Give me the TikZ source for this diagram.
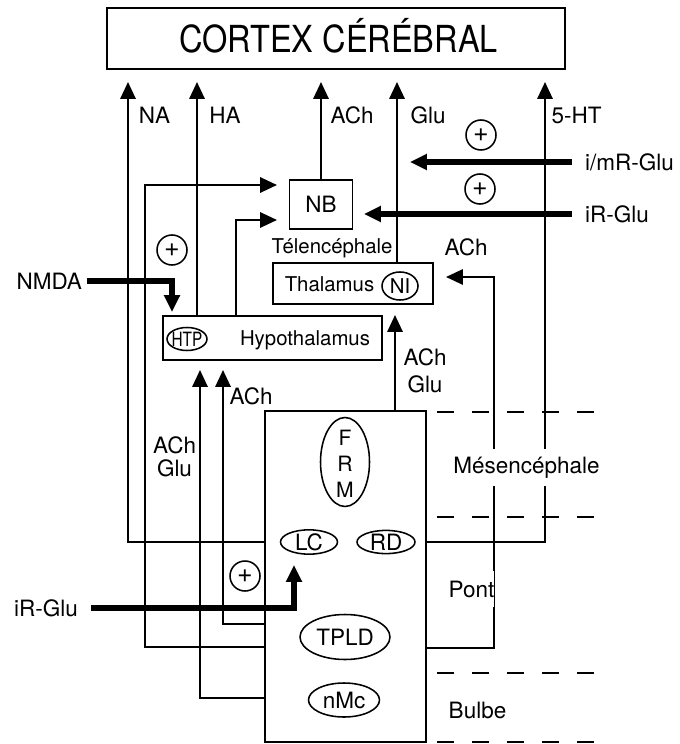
\documentclass[tikz,border=0pt]{standalone}
\usepackage{fontspec}
\setmainfont{TeX Gyre Heros}
\usepackage{graphicx}
\usetikzlibrary{arrows.meta,shapes.geometric}

\begin{document}
\begin{tikzpicture}[x=0.25mm, y=-0.25mm, line width=1.5pt,
	>={Triangle[length=4.2mm,width=3.8mm]},
	boite/.style={draw, line width=1.1pt, inner sep=0pt},
	ovale/.style={draw, ellipse, line width=1.1pt, inner sep=0pt, font=\fontsize{16}{19}\selectfont},
	pluscercle/.style={draw, circle, line width=1.1pt, minimum size=7.5mm, inner sep=0pt, font=\fontsize{19}{20}\selectfont},
	etiq/.style={inner sep=0pt, font=\fontsize{16}{19}\selectfont},
	petit/.style={inner sep=0pt, font=\fontsize{14.5}{17}\selectfont},
	gros/.style={line width=3.6pt},
	limite/.style={line width=1.5pt, dash pattern=on 4.25mm off 4.5mm}]
	\useasboundingbox (0,0) rectangle (679,744);
	
	% Cortex
	\node[boite, minimum width=114.5mm, minimum height=15.25mm] (cortex) at (336,38.5) {};
	\node[anchor=base, inner sep=0pt, font=\fontsize{26.5}{30}\selectfont] (titre) at (338.5,53) {\scalebox{0.873}[1]{CORTEX CÉRÉBRAL}};
	
	% Télencéphale, thalamus, hypothalamus
	\node[boite, etiq, minimum width=15.75mm, minimum height=12.25mm] (nb) at (321,204.5) {NB};
	\node[petit] (telen) at (332,248) {Télencéphale};
	\node[boite, minimum width=40mm, minimum height=10.25mm] (thal) at (353,283.5) {};
	\node[petit, anchor=base] (thalt) at (329.5,291) {Thalamus};
	\node[ovale, minimum width=9mm, minimum height=7mm, font=\fontsize{14.5}{17}\selectfont] (ni) at (400,286) {NI};
	\node[boite, minimum width=54.75mm, minimum height=11mm] (hypo) at (272.5,338) {};
	\node[ovale, minimum width=10mm, minimum height=5.75mm, label={[inner sep=0pt, font=\fontsize{14}{16}\selectfont]center:\scalebox{0.78}[1]{HTP}}] (htp) at (187,339) {};
	\node[petit, anchor=base] (hypot) at (305,345) {Hypothalamus};
	
	% Tronc cérébral
	\node[boite, minimum width=40.25mm, minimum height=82.75mm] (tronc) at (345.5,576.5) {};
	\node[ovale, minimum width=12.25mm, minimum height=22.25mm] (frm) at (345,462) {};
	\node[etiq, align=center, font=\fontsize{15}{18.5}\selectfont] (frmt) at (345,464) {F\\R\\M};
	\node[ovale, minimum width=14.25mm, minimum height=5.75mm] (lc) at (309,542) {LC};
	\node[ovale, minimum width=14.5mm, minimum height=5.5mm] (rd) at (386,542) {RD};
	\node[ovale, minimum width=22.5mm, minimum height=11.25mm] (tpld) at (345,637) {TPLD};
	\node[ovale, minimum width=17.75mm, minimum height=8.5mm] (nmc) at (344,700) {nMc};
	
	\node[pluscercle] (p1) at (481,135) {+};
	\node[pluscercle] (p2) at (480,189) {+};
	\node[pluscercle] (p3) at (172,250) {+};
	\node[pluscercle] (p4) at (245,576) {+};
	
	% Etiquettes
	\node[etiq] (na) at (154.5,115) {NA};
	\node[etiq] (ha) at (225,115) {HA};
	\node[etiq] (ach1) at (352,115) {ACh};
	\node[etiq] (glu1) at (428,115) {Glu};
	\node[etiq] (ht) at (576.5,115) {5-HT};
	\node[etiq, anchor=west, inner xsep=3mm] (imglu) at (572,162) {i/mR-Glu};
	\node[etiq, anchor=west, inner xsep=3mm] (irglu) at (572,214) {iR-Glu};
	\node[etiq] (ach2) at (466,247) {ACh};
	\node[etiq, anchor=east, inner xsep=1mm] (nmda) at (87,281) {NMDA};
	\node[etiq, align=center, font=\fontsize{16}{19}\selectfont] (ach3) at (425,371) {ACh\\Glu};
	\node[etiq] (ach4) at (251,396) {ACh};
	\node[etiq, align=center, font=\fontsize{16}{16.5}\selectfont] (ach5) at (174.5,457) {ACh\\Glu};
	\node[etiq, anchor=east, inner xsep=3mm] (irglu2) at (91,608) {iR-Glu};
	\node[etiq] (bulbe) at (477.5,710) {Bulbe};
	
	% Points d'arrivée
	\coordinate (naT) at (128,82);
	\coordinate (haT) at (197,82);
	\coordinate (achT) at (321,82);
	\coordinate (gluT) at (397,82);
	\coordinate (htT) at (545,82);
	\coordinate (nbA) at (277,185);
	\coordinate (nbB) at (277,220);
	\coordinate (hpA) at (200,370);
	\coordinate (hpB) at (223,370);
	\coordinate (thA) at (446,277);
	\coordinate (thB) at (395,315);
	\coordinate (imT) at (410,162);
	\coordinate (irT) at (364,214);
	\coordinate (nmT) at (172,312);
	\coordinate (lcT) at (294,565);
	\coordinate (kNB) at (145,185);
	\coordinate (kTh) at (494,277);
	
	% Projections
	\draw[->] (tronc.west |- lc) -| (naT);
	\draw[->] (hypo.north -| haT) -- (haT);
	\draw[->] (nb.north) -- (achT);
	\draw[->] (thal.north -| gluT) -- (gluT);
	\draw[->] (tronc.east |- rd) -| (htT);
	\draw[->] (tronc.west |- 0,647) -| (kNB) -- (nbA);
	\draw[->] (hypo.north -| 236,0) |- (nbB);
	\draw[->] (tronc.west |- 0,698) -| (hpA);
	\draw[->] (tronc.west |- 0,624) -| (hpB);
	\draw[->] (tronc.east |- 0,648) -| (kTh) -- (thA);
	\draw[->] (tronc.north -| thB) -- (thB);
	
	\draw[gros,->] (imglu.west) -- (imT);
	\draw[gros,->] (irglu.west) -- (irT);
	\draw[gros,->] (nmda.east) -| (nmT);
	\draw[gros,->] (irglu2.east) -| (lcT);
	
	% Limites
	\draw[limite] (437,412) -- (596,412);
	\draw[limite] (437,517) -- (596,517);
	\draw[limite] (437,673) -- (596,673);
	\draw[limite] (437,742) -- (596,742);
	\node[etiq, anchor=base, fill=white, inner ysep=2mm] (mesen) at (526.5,473) {Mésencéphale};
	\node[etiq, fill=white, inner ysep=2.5mm] (pont) at (471.5,589) {Pont};
\end{tikzpicture}
\end{document}
